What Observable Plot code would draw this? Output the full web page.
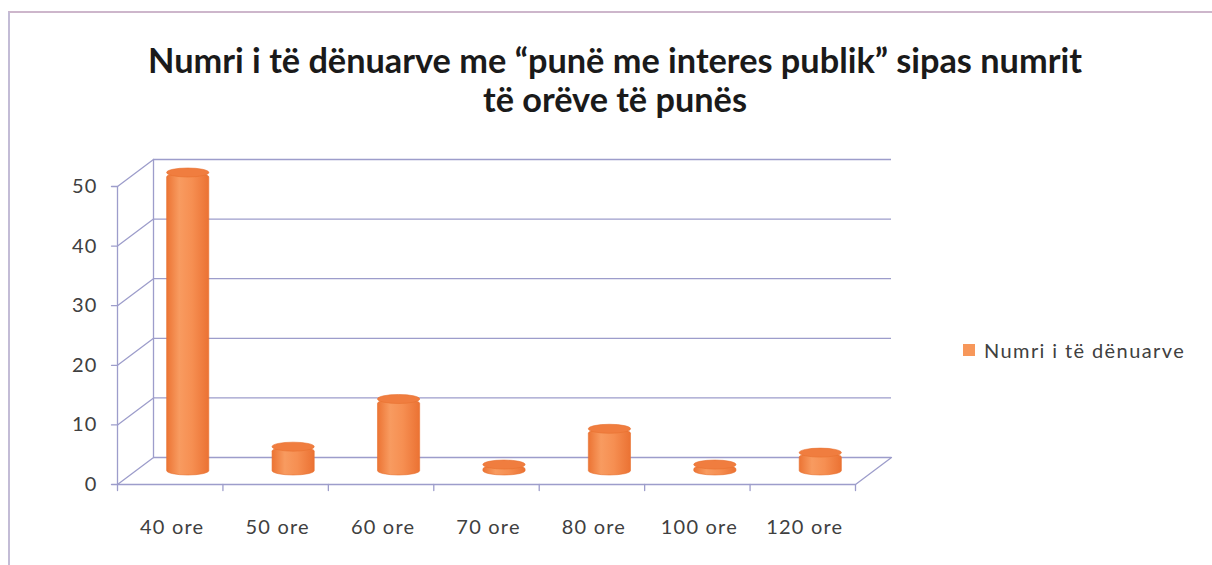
<!DOCTYPE html>
<html>
<head>
<meta charset="utf-8">
<script src="https://cdn.jsdelivr.net/npm/d3@7"></script>
<script src="https://cdn.jsdelivr.net/npm/@observablehq/plot@0.6"></script>
<style>
  html, body { margin: 0; padding: 0; background: #fff; }
  body { width: 1212px; height: 565px; position: relative; overflow: hidden; font-family: Lato, "Open Sans", sans-serif; }
  #frame { position: absolute; left: 8px; top: 11px; width: 1300px; height: 700px;
           border-top: 2px solid #cdb6cb; border-left: 2px solid #c3bcd6; }
  .title { position: absolute; left: 9px; width: 1212px; text-align: center; font-weight: 700; color: #1a1a1a;
           white-space: nowrap; font-family: Lato, sans-serif; }
  .title span { display: inline-block; }
  #chart { position: absolute; left: 0; top: 0; }
  #chart svg .lbl text { letter-spacing: 1.2px; }
  #legend { position: absolute; left: 963px; top: 338px; display: flex; align-items: center; color: #404040;
            font-family: Lato, sans-serif; font-size: 20px; letter-spacing: 1.4px; }
  #legend .sw { width: 12px; height: 12px; background: #f7975a; margin-right: 9px; }
</style>
</head>
<body>
<div id="frame"></div>
<div id="chart"></div>
<div class="title" id="t1" style="top:39px"><span>Numri i të dënuarve me “punë me interes publik” sipas numrit</span></div>
<div class="title" id="t2" style="top:78px"><span>të orëve të punës</span></div>
<div id="legend"><div class="sw"></div><span id="legtext"></span></div>
<script>
// ---- data ----
const categories = ["40 ore", "50 ore", "60 ore", "70 ore", "80 ore", "100 ore", "120 ore"];
const values = [50, 4, 12, 1, 7, 1, 3];
const yTicks = [0, 10, 20, 30, 40, 50];
const seriesName = "Numri i të dënuarve";

const table = categories.map((c, i) => ({ i, category: c, value: values[i] }));
const boundaries = d3.range(categories.length + 1);

const gridColor = "#9d9dcb";
const textColor = "#404040";
const depthDx = 36, depthDy = -27;       // back wall offset
const depthAngle = Math.atan2(depthDx, -depthDy) * 180 / Math.PI;
const depthLen = Math.hypot(depthDx, depthDy);
const lineShape = { draw(context, l) { context.moveTo(0, 0); context.lineTo(0, -l); } };

const defs = () => {
  const ns = "http://www.w3.org/2000/svg";
  const d = document.createElementNS(ns, "defs");
  d.innerHTML = `<linearGradient id="cyl" x1="0" x2="1" y1="0" y2="0">
      <stop offset="0%" stop-color="#ec7434"/>
      <stop offset="30%" stop-color="#f89b60"/>
      <stop offset="60%" stop-color="#f68f52"/>
      <stop offset="100%" stop-color="#eb7233"/>
    </linearGradient>`;
  return d;
};

const chart = Plot.plot({
  width: 1212,
  height: 565,
  marginLeft: 117,
  marginRight: 357,
  marginTop: 186,
  marginBottom: 81,
  style: { fontFamily: "Lato, sans-serif", background: "transparent" },
  x: { domain: [0, categories.length], axis: null },
  y: { domain: [0, 50], axis: null },
  marks: [
    defs,
    // back wall gridlines
    Plot.ruleY(yTicks, { dx: depthDx, dy: depthDy, stroke: gridColor, strokeWidth: 1.3 }),
    Plot.ruleX([0], { y1: 0, y2: 50, dx: depthDx, dy: depthDy, stroke: gridColor, strokeWidth: 1.3 }),
    // depth diagonals (left side wall + floor)
    Plot.vector(yTicks, { x: 0, y: d => d, length: depthLen, rotate: depthAngle, anchor: "start", shape: lineShape, stroke: gridColor, strokeWidth: 1.3 }),
    Plot.vector([categories.length], { x: d => d, y: 0, length: depthLen, rotate: depthAngle, anchor: "start", shape: lineShape, stroke: gridColor, strokeWidth: 1.3 }),
    // front axes
    Plot.ruleX([0], { y1: 0, y2: 50, stroke: gridColor, strokeWidth: 1.3 }),
    Plot.ruleY([0], { stroke: gridColor, strokeWidth: 1.3 }),
    Plot.vector(yTicks, { x: 0, y: d => d, length: 6, rotate: 270, anchor: "start", shape: lineShape, stroke: gridColor, strokeWidth: 1.3 }),
    Plot.vector(boundaries, { x: d => d, y: 0, length: 6, rotate: 180, anchor: "start", shape: lineShape, stroke: gridColor, strokeWidth: 1.3 }),
    // tick labels
    Plot.text(yTicks, { x: 0, y: d => d, text: d => String(d), textAnchor: "end", dx: -20, fontSize: 20, fill: textColor, className: "lbl" }),
    Plot.text(table, { x: d => d.i + 0.5, y: 0, text: "category", dx: 2, dy: 43, fontSize: 20, fill: textColor, className: "lbl" }),
    // cylinders: body
    Plot.rect(table, { x1: d => d.i + 0.3, x2: d => d.i + 0.7, y1: 0, y2: "value",
      dx: depthDx / 2, dy: depthDy / 2, insetBottom: -4.5, rx: 21, ry: 4.5,
      fill: "url(#cyl)", stroke: "#e8702f", strokeWidth: 0.6 }),
    // cylinders: top face
    Plot.rect(table, { x1: d => d.i + 0.3, x2: d => d.i + 0.7, y1: "value", y2: "value",
      dx: depthDx / 2, dy: depthDy / 2, insetTop: -4.5, insetBottom: -4.5, rx: 21, ry: 4.5,
      fill: "#f07d3f", stroke: "#e8702f", strokeWidth: 0.6 })
  ]
});
document.getElementById("chart").appendChild(chart);
document.getElementById("legtext").textContent = seriesName;

// fit title lines to the reference widths
function fit(id, target) {
  const el = document.querySelector("#" + id + " span");
  const base = 26;
  el.style.fontSize = base + "px";
  const w = el.getBoundingClientRect().width;
  el.style.fontSize = (base * target / w).toFixed(2) + "px";
}
fit("t1", 934);
fit("t2", 264);
</script>
</body>
</html>
